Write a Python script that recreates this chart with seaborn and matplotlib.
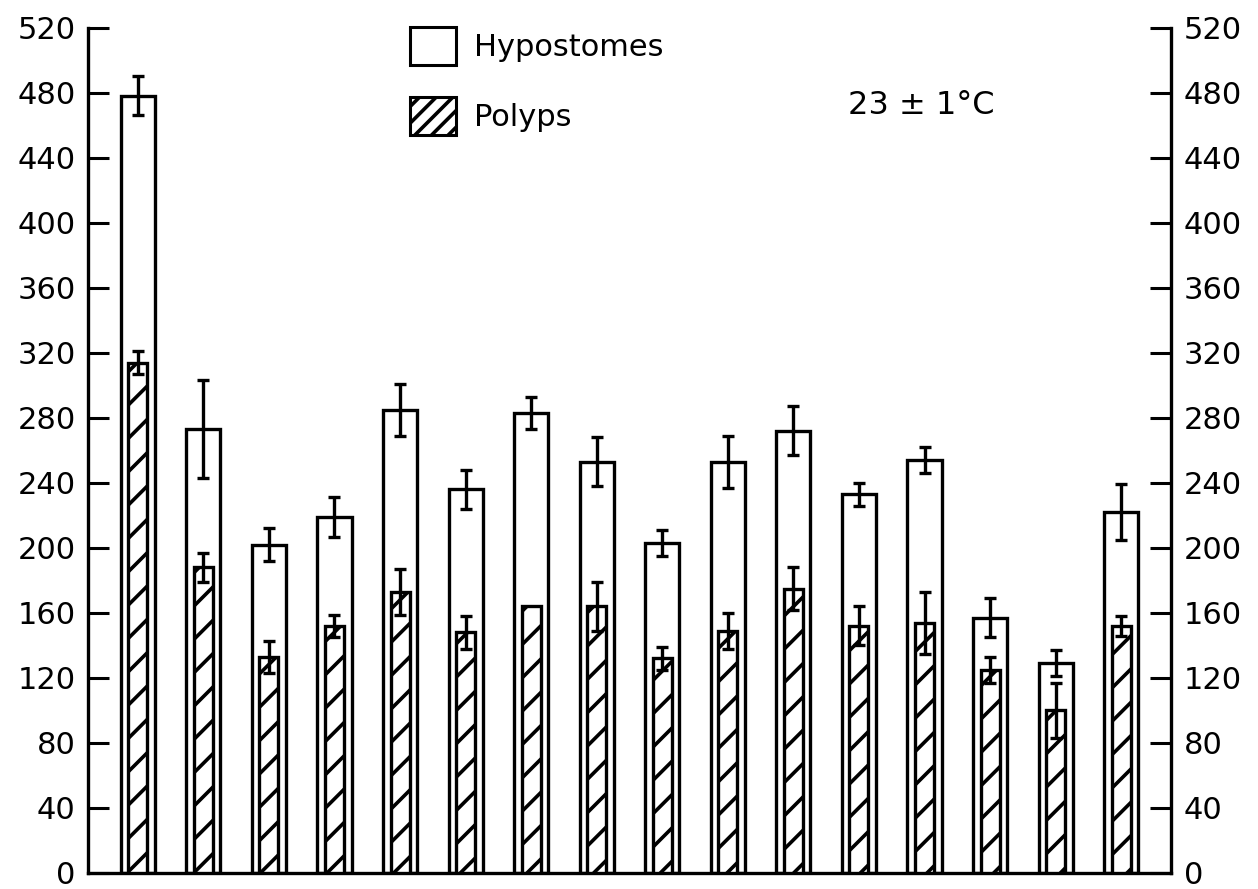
import matplotlib
matplotlib.use("Agg")
import matplotlib.pyplot as plt
from matplotlib.patches import Patch
import seaborn as sns
import pandas as pd
import numpy as np

# ---- data ----
groups = [str(i) for i in range(1, 17)]
hypostomes = [478, 273, 202, 219, 285, 236, 283, 253, 203, 253, 272, 233, 254, 157, 129, 222]
hypostomes_err = [12, 30, 10, 12, 16, 12, 10, 15, 8, 16, 15, 7, 8, 12, 8, 17]
polyps = [314, 188, 133, 152, 173, 148, 164, 164, 132, 149, 175, 152, 154, 125, 100, 152]
polyps_err = [7, 9, 10, 7, 14, 10, 0, 15, 7, 11, 13, 12, 19, 8, 17, 6]
yticks = list(range(0, 521, 40))
legend_labels = ["Hypostomes", "Polyps"]
temp_label = "23 \u00b1 1\u00b0C"

df = pd.DataFrame({"group": groups, "hyp": hypostomes, "hyp_err": hypostomes_err,
                   "pol": polyps, "pol_err": polyps_err})

sns.set_style("ticks")
plt.rcParams["font.family"] = ["DejaVu Sans"]
plt.rcParams["text.color"] = "black"
plt.rcParams["axes.labelcolor"] = "black"
plt.rcParams["hatch.linewidth"] = 2.6
plt.rcParams["hatch.color"] = "black"

fig = plt.figure(figsize=(12.58, 8.89), dpi=100)
ax = fig.add_axes([88 / 1258, 1 - 873 / 889, (1171 - 88) / 1258, (873 - 27.7) / 889])

lw = 2.4
sns.barplot(data=df, x="group", y="hyp", width=0.52, color="white", edgecolor="black",
            linewidth=lw, errorbar=None, saturation=1, ax=ax, zorder=2)
sns.barplot(data=df, x="group", y="pol", width=0.29, color="white", edgecolor="black",
            linewidth=lw, errorbar=None, saturation=1, hatch="/", ax=ax, zorder=3)

xpos = np.arange(len(groups))
ax.errorbar(xpos, df["hyp"], yerr=df["hyp_err"], fmt="none", ecolor="black",
            elinewidth=2.4, capsize=4, capthick=2.4, zorder=5)
mask = (df["pol_err"] > 0).to_numpy()
ax.errorbar(xpos[mask], df["pol"][mask], yerr=df["pol_err"][mask], fmt="none", ecolor="black",
            elinewidth=2.4, capsize=4, capthick=2.4, zorder=5)

ax.set_xlim(-0.76, len(groups) - 1 + 0.76)
ax.set_ylim(0, 520)
ax.set_yticks(yticks)
ax.set_yticklabels([str(t) for t in yticks])
ax.set_xticks([])
ax.set_xlabel("")
ax.set_ylabel("")

for side in ["left", "right", "bottom"]:
    ax.spines[side].set_visible(True)
    ax.spines[side].set_linewidth(2.4)
    ax.spines[side].set_color("black")
ax.spines["top"].set_visible(False)

ax.tick_params(axis="y", which="both", direction="in", length=15, width=2.2,
               left=True, right=True, labelleft=True, labelright=True,
               labelsize=22, colors="black", pad=9)

handles = [Patch(facecolor="white", edgecolor="black", linewidth=2.2),
           Patch(facecolor="white", edgecolor="black", linewidth=2.2, hatch="//")]
leg = ax.legend(handles, legend_labels, loc="upper left",
                bbox_to_anchor=((410 - 88) / 1083, (873 - 26) / 846),
                frameon=False, fontsize=22, handlelength=1.5, handleheight=1.55,
                handletextpad=0.6, labelspacing=1.05, borderpad=0, borderaxespad=0)
for t in leg.get_texts():
    t.set_color("black")

ax.text((848 - 88) / 1083, (873 - 105) / 846, temp_label, transform=ax.transAxes,
        fontsize=23, ha="left", va="center", color="black")

fig.savefig("out.png", dpi=100, facecolor="white")
